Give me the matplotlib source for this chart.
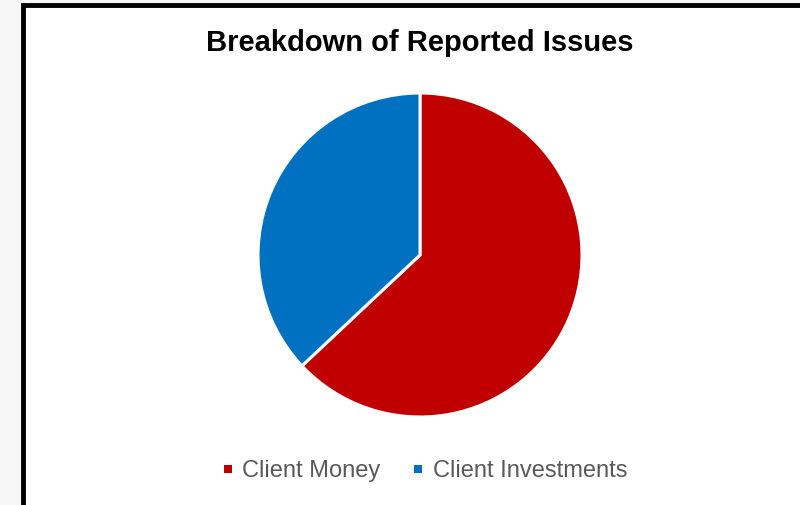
import matplotlib
matplotlib.use("Agg")
import matplotlib.pyplot as plt
from matplotlib.patches import Rectangle
from matplotlib.lines import Line2D

plt.rcParams['font.family'] = ['Liberation Sans', 'DejaVu Sans']

categories = ["Client Money", "Client Investments"]
values = [63, 37]
colors = ["#C00000", "#0070C0"]
title = "Breakdown of Reported Issues"

W, H = 800, 505
fig = plt.figure(figsize=(W / 100, H / 100), dpi=100, facecolor="#f7f7f7")

# white chart area with a heavy black frame (right/bottom edges run off the canvas)
fx0, fy0 = 22.5 / W, 1 - 4.5 / H
frame = Rectangle((fx0, -0.2), 1.2, fy0 + 0.2, transform=fig.transFigure,
                  facecolor="white", edgecolor="black", linewidth=3.5, zorder=-5)
fig.patches.append(frame)

# pie axes: centre (420, 255), radius 162 px
cx, cy, r = 420, 255, 162
ax = fig.add_axes([(cx - r) / W, 1 - (cy + r) / H, 2 * r / W, 2 * r / H], zorder=2)
ax.set_facecolor("none")
wedges, _ = ax.pie(values, colors=colors, startangle=90, counterclock=False,
                   wedgeprops=dict(edgecolor="white", linewidth=2.2))
ax.set_aspect("equal")
ax.set_xlim(-1, 1)
ax.set_ylim(-1, 1)
ax.axis("off")

fig.text(420 / W, 1 - 43 / H, title, ha="center", va="center",
         fontsize=21, fontweight="bold", color="black", zorder=3)

# small square legend keys in the wedge colours
handles = [Line2D([], [], linestyle="none", marker="s", markersize=5.5,
                  markerfacecolor=w.get_facecolor(), markeredgewidth=0) for w in wedges]
leg = fig.legend(handles, categories, loc="center", bbox_to_anchor=(425 / W, 1 - 471 / H),
                 ncol=2, frameon=False, fontsize=17, handlelength=0.45,
                 handletextpad=0.4, columnspacing=1.37, labelcolor="#595959")
leg.set_zorder(3)

fig.savefig("out.png", dpi=100, facecolor=fig.get_facecolor())
